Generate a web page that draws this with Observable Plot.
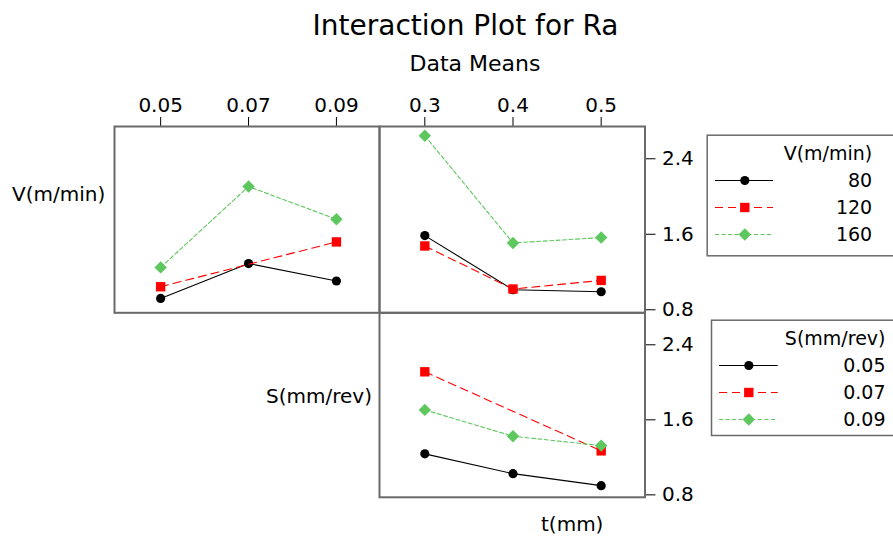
<!DOCTYPE html>
<html><head><meta charset="utf-8">
<script src="https://cdn.jsdelivr.net/npm/d3@7"></script>
<script src="https://cdn.jsdelivr.net/npm/@observablehq/plot@0.6"></script>
<style>
body{margin:0;background:#fff;font-family:"DejaVu Sans",sans-serif;}
#chart{position:relative;width:893px;height:536px;overflow:hidden;background:#fff;}
.lbl{position:absolute;white-space:nowrap;line-height:1;color:#000;font-family:"DejaVu Sans",sans-serif;}
#chart svg{position:absolute;}
</style></head><body>
<div id="chart">
  <div class="lbl" id="title" style="font-size:28px;top:12px;left:465.5px;transform:translateX(-50%);"></div>
  <div class="lbl" id="subtitle" style="font-size:22px;top:53px;left:475px;transform:translateX(-50%);"></div>
  <div class="lbl" id="rowV" style="font-size:20px;top:184px;left:12px;"></div>
  <div class="lbl" id="rowS" style="font-size:20px;top:386px;right:521px;"></div>
  <div class="lbl" id="colT" style="font-size:20px;top:514px;left:541px;"></div>
</div>
<script>
// ---- data (means of Ra) ----
const titleText = "Interaction Plot for Ra";
const subtitleText = "Data Means";
const factorV = "V(m/min)";
const factorS = "S(mm/rev)";
const factorT = "t(mm)";
const sLevels = [0.05, 0.07, 0.09];
const tLevels = [0.3, 0.4, 0.5];
const yTicks = [0.8, 1.6, 2.4];
const vSeries = ["80", "120", "160"];
const sSeries = ["0.05", "0.07", "0.09"];
// V x S (top-left), values at S = 0.05, 0.07, 0.09
const raS_V80  = [0.92, 1.29, 1.105];
const raS_V120 = [1.044, null, 1.519];
const raS_V160 = [1.249, 2.106, 1.759];
// V x t (top-right), values at t = 0.3, 0.4, 0.5
const raT_V80  = [1.586, 1.013, 0.991];
const raT_V120 = [1.476, 1.02, 1.111];
const raT_V160 = [2.644, 1.508, 1.565];
// S x t (bottom-right), values at t = 0.3, 0.4, 0.5
const raT_S005 = [1.237, 1.026, 0.898];
const raT_S007 = [2.112, null, 1.269];
const raT_S009 = [1.706, 1.425, 1.325];

// ---- styles ----
const styles = [
  {color: "#000000", dash: null, symbol: "circle", r: 4.6},
  {color: "#ff0000", dash: "8,5", symbol: "square", r: 5.3},
  {color: "#5ec75e", dash: "4,2.5", symbol: "diamond2", r: 5.6}
];
const font = "DejaVu Sans";
const chart = document.getElementById("chart");
document.getElementById("title").textContent = titleText;
document.getElementById("subtitle").textContent = subtitleText;
document.getElementById("rowV").textContent = factorV;
document.getElementById("rowS").textContent = factorS;
document.getElementById("colT").textContent = factorT;

function seriesMarks(levels, names, valuesList) {
  const marks = [];
  names.forEach((name, i) => {
    const st = styles[i];
    const rows = levels.map((x, j) => ({x, y: valuesList[i][j], series: name})).filter(d => d.y != null);
    marks.push(Plot.line(rows, {x: "x", y: "y", stroke: st.color, strokeWidth: 1.1, strokeDasharray: st.dash}));
    marks.push(Plot.dot(rows, {x: "x", y: "y", symbol: st.symbol, r: st.r, fill: st.color, stroke: "none"}));
  });
  return marks;
}

function panel(o) {
  const svg = Plot.plot({
    width: o.width, height: o.height,
    marginLeft: o.ml, marginRight: o.mr, marginTop: o.mt, marginBottom: o.mb,
    style: {background: "transparent", fontFamily: font, fontSize: "20px", overflow: "visible"},
    x: o.topAxis
      ? {domain: o.xDomain, axis: "top", ticks: o.levels, tickFormat: o.fmt, tickSize: 10, tickPadding: 5, label: null}
      : {domain: o.xDomain, axis: null},
    y: o.rightAxis
      ? {domain: o.yDomain, axis: "right", ticks: yTicks, tickFormat: d3.format(".1f"), tickSize: 10, tickPadding: 7, label: null}
      : {domain: o.yDomain, axis: null},
    marks: [
      Plot.frame({stroke: "#6a6a6a", strokeWidth: 2}),
      ...seriesMarks(o.levels, o.names, o.values)
    ]
  });
  svg.style.left = o.left + "px";
  svg.style.top = o.top + "px";
  chart.appendChild(svg);
}

const yTop = [0.768, 2.742];
const yBottom = [0.774, 2.741];
const sDomain = [0.0395, 0.0998];
const tDomain = [0.2486, 0.5497];

panel({left: 0, top: 0, width: 381, height: 314, ml: 114, mr: 2, mt: 126, mb: 1.7,
  xDomain: sDomain, yDomain: yTop, levels: sLevels, fmt: d3.format(".2f"),
  topAxis: true, rightAxis: false,
  names: vSeries, values: [raS_V80, raS_V120, raS_V160]});
panel({left: 377, top: 0, width: 330, height: 314, ml: 2, mr: 62.5, mt: 126, mb: 1.7,
  xDomain: tDomain, yDomain: yTop, levels: tLevels, fmt: d3.format(".1f"),
  topAxis: true, rightAxis: true,
  names: vSeries, values: [raT_V80, raT_V120, raT_V160]});
panel({left: 377, top: 300, width: 330, height: 236, ml: 2, mr: 62.5, mt: 12.3, mb: 39.2,
  xDomain: tDomain, yDomain: yBottom, levels: tLevels, fmt: d3.format(".1f"),
  topAxis: false, rightAxis: true,
  names: sSeries, values: [raT_S005, raT_S007, raT_S009]});

function legend(o) {
  const rows = [o.title, ...o.names];
  const marks = [Plot.frame({stroke: "#6a6a6a", strokeWidth: 1.5})];
  o.names.forEach((name, i) => {
    const st = styles[i];
    marks.push(Plot.ruleY([name], {y: d => d, x1: o.sx1, x2: o.sx2, stroke: st.color, strokeWidth: 1.2, strokeDasharray: st.dash}));
    marks.push(Plot.dot([name], {x: o.mx, y: d => d, symbol: st.symbol, r: st.r, fill: st.color, stroke: "none"}));
  });
  marks.push(Plot.text(rows, {x: o.tx, y: d => d, text: d => d, textAnchor: "end", fontSize: 19, fill: "#000"}));
  const svg = Plot.plot({
    width: 210, height: o.height,
    marginLeft: o.ml, marginRight: 3, marginTop: 4.7, marginBottom: o.mb,
    style: {background: "transparent", fontFamily: font, overflow: "visible"},
    x: {domain: [o.ml, 207], axis: null},
    y: {type: "point", domain: rows, range: o.yRange, padding: 0, axis: null},
    marks
  });
  svg.style.left = o.left + "px";
  svg.style.top = o.top + "px";
  chart.appendChild(svg);
}

legend({left: 700, top: 130, height: 130, ml: 6.7, mb: 4.7, title: factorV, names: vSeries,
  sx1: 15, sx2: 73, mx: 44.3, tx: 171.7, yRange: [23, 104.3]});
legend({left: 700, top: 315, height: 125, ml: 11, mb: 5, title: factorS, names: sSeries,
  sx1: 19, sx2: 77.7, mx: 48.3, tx: 185, yRange: [22.7, 104.3]});
</script>
</body></html>
